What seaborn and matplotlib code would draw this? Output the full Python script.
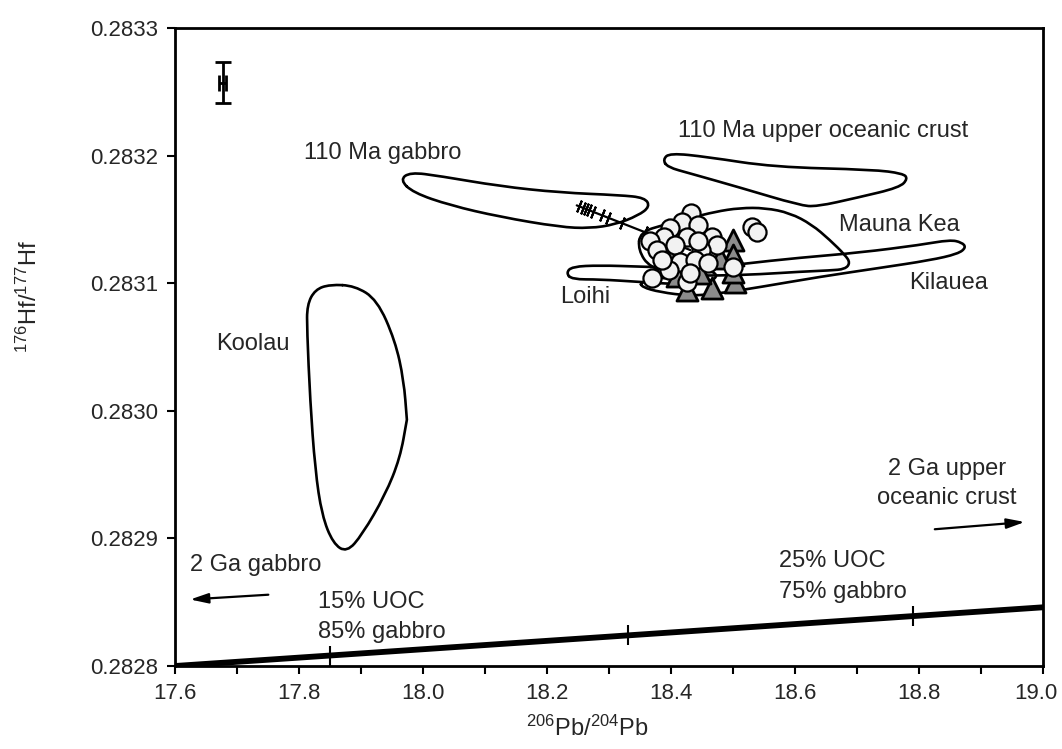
import numpy as np
import pandas as pd
import matplotlib
matplotlib.use("Agg")
import matplotlib.pyplot as plt
import matplotlib.transforms as mtransforms
from matplotlib.path import Path
from matplotlib.patches import PathPatch
import seaborn as sns

# ---------------- data ----------------
x_ticks = [17.6, 17.8, 18.0, 18.2, 18.4, 18.6, 18.8, 19.0]
y_ticks = [0.2828, 0.2829, 0.2830, 0.2831, 0.2832, 0.2833]

circle_x = [18.433, 18.417, 18.444, 18.398, 18.388, 18.425, 18.466, 18.366, 18.406, 18.474,
            18.377, 18.449, 18.415, 18.439, 18.460, 18.396, 18.500, 18.369, 18.425, 18.431,
            18.530, 18.538, 18.444, 18.385]
circle_y = [0.283155, 0.283148, 0.283146, 0.283143, 0.283136, 0.283136, 0.283136, 0.283133, 0.283130, 0.283130,
            0.283126, 0.283126, 0.283117, 0.283118, 0.283116, 0.283110, 0.283113, 0.283104, 0.283101, 0.283108,
            0.283144, 0.283140, 0.283133, 0.283118]

tri_x = [18.500, 18.500, 18.503, 18.466, 18.425, 18.398, 18.388, 18.409, 18.479, 18.447, 18.500]
tri_y = [0.283134, 0.283122, 0.283101, 0.283096, 0.283095, 0.283120, 0.283113, 0.283106, 0.283120, 0.283108, 0.283109]

gabbro110_x = [17.963, 17.979, 18.027, 18.124, 18.221, 18.318, 18.358, 18.366, 18.347, 18.310,
               18.269, 18.221, 18.124, 18.044, 17.984]
gabbro110_y = [0.283181, 0.283187, 0.283184, 0.283176, 0.283171, 0.283169, 0.283167, 0.283160, 0.283153, 0.283146,
               0.283143, 0.283144, 0.283152, 0.283161, 0.283171]

uoc110_x = [18.387, 18.398, 18.458, 18.565, 18.726, 18.774, 18.782, 18.769, 18.700, 18.635,
            18.608, 18.511, 18.431, 18.394]
uoc110_y = [0.283197, 0.283202, 0.283199, 0.283191, 0.283189, 0.283186, 0.283182, 0.283175, 0.283167, 0.283160,
            0.283161, 0.283175, 0.283186, 0.283191]

maunakea_x = [18.350, 18.390, 18.431, 18.471, 18.511, 18.552, 18.592, 18.627, 18.656, 18.681,
              18.689, 18.681, 18.656, 18.608, 18.544, 18.479, 18.415, 18.366, 18.347]
maunakea_y = [0.283140, 0.283146, 0.283151, 0.283156, 0.283159, 0.283159, 0.283155, 0.283146, 0.283134, 0.283122,
              0.283116, 0.283111, 0.283110, 0.283109, 0.283107, 0.283106, 0.283106, 0.283112, 0.283126]

kilauea_x = [18.350, 18.415, 18.511, 18.608, 18.705, 18.802, 18.850, 18.869, 18.876, 18.863,
             18.818, 18.737, 18.640, 18.544, 18.479, 18.431, 18.382, 18.353]
kilauea_y = [0.283101, 0.283109, 0.283115, 0.283120, 0.283124, 0.283130, 0.283134, 0.283132, 0.283128, 0.283123,
             0.283118, 0.283112, 0.283105, 0.283097, 0.283092, 0.283090, 0.283093, 0.283097]

loihi_x = [18.231, 18.240, 18.285, 18.350, 18.415, 18.463, 18.476, 18.463, 18.415, 18.350, 18.285, 18.240]
loihi_y = [0.283108, 0.283113, 0.283114, 0.283113, 0.283112, 0.283110, 0.283106, 0.283101, 0.283099, 0.283101,
           0.283103, 0.283103]

koolau_x = [17.850, 17.826, 17.813, 17.813, 17.818, 17.826, 17.837, 17.855, 17.877, 17.902,
            17.939, 17.963, 17.974, 17.974, 17.969, 17.955, 17.926, 17.890]
koolau_y = [0.283099, 0.283095, 0.283083, 0.283063, 0.283008, 0.282954, 0.282918, 0.282896, 0.282889, 0.282903,
            0.282934, 0.282963, 0.282993, 0.282993, 0.283024, 0.283055, 0.283087, 0.283098]

mix_x = [17.6, 19.0]
mix_y = [0.28280, 0.282846]
mix_tick_x = [17.85, 18.33, 18.79]

hatch_x = [18.248, 18.431]
hatch_y = [0.283161, 0.283126]
hatch_tick_x = [18.252, 18.258, 18.263, 18.268, 18.274, 18.289, 18.298, 18.321, 18.358]

err_x, err_y = 17.677, 0.283257
err_xe, err_ye = 0.006, 0.000016

# ---------------- style ----------------
sns.set_theme(style="ticks")
plt.rcParams["font.family"] = ["Liberation Sans", "DejaVu Sans"]
plt.rcParams["mathtext.default"] = "regular"
FS = 17
TFS = 16

fig = plt.figure(figsize=(10.62, 7.49), dpi=100)
ax = fig.add_axes([175/1062, 83/749, 868/1062, 638/749])
ax.set_xlim(17.6, 19.0)
ax.set_ylim(0.2828, 0.2833)


def outline(xs, ys, lw=1.9):
    pts = np.column_stack([xs, ys])
    n = len(pts)
    mids = (pts + np.roll(pts, -1, axis=0)) / 2.0
    verts = [mids[-1]]
    codes = [Path.MOVETO]
    for i in range(n):
        verts += [pts[i], mids[i]]
        codes += [Path.CURVE3, Path.CURVE3]
    patch = PathPatch(Path(verts, codes), facecolor="none", edgecolor="black", lw=lw,
                      zorder=2, capstyle="round", joinstyle="round")
    ax.add_patch(patch)


for sx, sy in [(gabbro110_x, gabbro110_y), (uoc110_x, uoc110_y), (maunakea_x, maunakea_y),
               (kilauea_x, kilauea_y), (loihi_x, loihi_y), (koolau_x, koolau_y)]:
    outline(sx, sy)

# mixing line
mix_df = pd.DataFrame({"x": mix_x, "y": mix_y})
sns.lineplot(data=mix_df, x="x", y="y", ax=ax, color="black", lw=4.2, zorder=3)
mix_tick_y = np.interp(mix_tick_x, mix_x, mix_y)
ax.plot(mix_tick_x, mix_tick_y, ls="none", marker="|", ms=14, mew=1.5, color="black", zorder=3)

# hatched line through cluster
ax.plot(hatch_x, hatch_y, color="black", lw=1.6, zorder=3)
hatch_tick_y = np.interp(hatch_tick_x, hatch_x, hatch_y)
ax.plot(hatch_tick_x, hatch_tick_y, ls="none", marker=(2, 2, -22), ms=9, mew=1.5,
        color="black", zorder=3)

# data points
circ_df = pd.DataFrame({"x": circle_x, "y": circle_y})
tri_df = pd.DataFrame({"x": tri_x, "y": tri_y})
sns.scatterplot(data=tri_df, x="x", y="y", ax=ax, marker="^", s=230, color="#8c8c8c",
                edgecolor="black", linewidth=2.0, zorder=4)
sns.scatterplot(data=circ_df, x="x", y="y", ax=ax, marker="o", s=170, color="#f2f2f2",
                edgecolor="black", linewidth=1.6, zorder=5)

# error bar
ax.errorbar([err_x], [err_y], xerr=[err_xe], yerr=[err_ye], fmt="none", ecolor="black",
            elinewidth=2, capsize=6, capthick=2, zorder=6)

# labels
ax.text(17.935, 0.283202, "110 Ma gabbro", fontsize=FS, ha="center", va="center")
ax.text(18.645, 0.283219, "110 Ma upper oceanic crust", fontsize=FS, ha="center", va="center")
ax.text(18.769, 0.283146, "Mauna Kea", fontsize=FS, ha="center", va="center")
ax.text(18.847, 0.283100, "Kilauea", fontsize=FS, ha="center", va="center")
ax.text(18.261, 0.283089, "Loihi", fontsize=FS, ha="center", va="center")
ax.text(17.726, 0.283052, "Koolau", fontsize=FS, ha="center", va="center")
ax.text(17.624, 0.282879, "2 Ga gabbro", fontsize=FS, ha="left", va="center")
ax.text(17.83, 0.282850, "15% UOC", fontsize=FS, ha="left", va="center")
ax.text(17.83, 0.282827, "85% gabbro", fontsize=FS, ha="left", va="center")
ax.text(18.574, 0.282882, "25% UOC", fontsize=FS, ha="left", va="center")
ax.text(18.574, 0.282858, "75% gabbro", fontsize=FS, ha="left", va="center")
ax.text(18.845, 0.282954, "2 Ga upper", fontsize=FS, ha="center", va="center")
ax.text(18.845, 0.282932, "oceanic crust", fontsize=FS, ha="center", va="center")

arrow_kw = dict(arrowstyle="-|>,head_length=0.9,head_width=0.25", color="black", lw=1.6)
ax.annotate("", xy=(17.62, 0.282852), xytext=(17.755, 0.282856), arrowprops=arrow_kw)
ax.annotate("", xy=(18.975, 0.282913), xytext=(18.821, 0.282907), arrowprops=arrow_kw)

# axes styling
ax.set_xticks(x_ticks)
ax.set_xticklabels([f"{v:.1f}" for v in x_ticks], fontsize=TFS)
ax.set_xticks(np.arange(17.7, 19.0, 0.2), minor=True)
ax.set_yticks(y_ticks)
ax.set_yticklabels([f"{v:.4f}" for v in y_ticks], fontsize=TFS)
ax.tick_params(axis="both", which="both", direction="out", length=6, width=1.5, color="black")
ax.tick_params(axis="both", which="major", pad=6)
for sp in ax.spines.values():
    sp.set_visible(True)
    sp.set_linewidth(2)
    sp.set_color("black")
ax.set_xlabel("")
ax.set_ylabel("")

# keep the last x tick label inside the canvas
last_lab = ax.get_xticklabels()[-1]
last_lab.set_transform(last_lab.get_transform() +
                       mtransforms.ScaledTranslation(-7/100, 0, fig.dpi_scale_trans))

fig.text(0.028, 0.6035, r"$^{176}$Hf/$^{177}$Hf", fontsize=FS, rotation=90, ha="center", va="center")
fig.text(0.553, 0.027, r"$^{206}$Pb/$^{204}$Pb", fontsize=FS, ha="center", va="center")

fig.savefig("out.png", dpi=100, facecolor="white")
